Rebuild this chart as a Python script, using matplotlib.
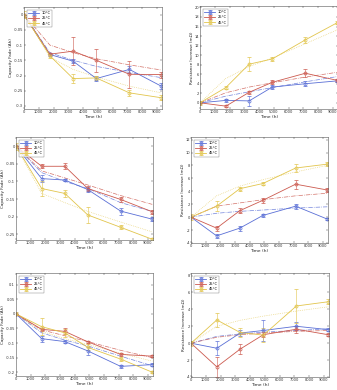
import numpy as np
import matplotlib
matplotlib.use("Agg")
import matplotlib.pyplot as plt
from matplotlib.ticker import FuncFormatter, MultipleLocator

plt.rcParams['font.family'] = ['DejaVu Sans']
plt.rcParams['axes.unicode_minus'] = False

# data
time_h = [0, 1750, 3330, 4900, 7140, 9300]
labels = ["10°C", "25°C", "45°C"]

# panel 1 - capacity fade
p1_blue = [0, -0.131, -0.153, -0.210, -0.180, -0.235]
p1_red = [0, -0.130, -0.120, -0.150, -0.196, -0.197]
p1_yellow = [0, -0.135, -0.210, -0.208, -0.257, -0.273]
p1_blue_err = [0, 0.004, 0.006, 0.008, 0.012, 0.010]
p1_red_err = [0, 0.004, 0.046, 0.038, 0.045, 0.010]
p1_yellow_err = [0.012, 0.006, 0.016, 0.006, 0.010, 0.008]
p1_blue_fit = [0, -0.125, -0.150, -0.170, -0.190, -0.207]
p1_red_fit = [0, -0.100, -0.125, -0.145, -0.165, -0.182]
p1_yellow_fit = [0, -0.140, -0.180, -0.205, -0.235, -0.257]

# panel 2 - resistance increase
p2_blue = [0, 0.5, 0.4, 3.3, 4.0, 4.6]
p2_red = [0, -0.7, 2.2, 4.3, 6.2, 4.7]
p2_yellow = [0, 3.2, 8.1, 9.2, 13.2, 16.8]
p2_blue_err = [0, 0.4, 1.0, 0.5, 0.5, 0.3]
p2_red_err = [0, 0.2, 0.3, 0.4, 0.8, 0.3]
p2_yellow_err = [0.4, 0.3, 1.5, 0.5, 0.6, 0.3]
p2_blue_fit = [0, 1.4, 2.3, 3.2, 4.4, 5.5]
p2_red_fit = [0, 2.1, 3.3, 4.2, 5.4, 6.4]
p2_yellow_fit = [0, 5.1, 7.6, 9.4, 12.4, 15.3]

# panel 3 - capacity fade
p3_blue = [0, -0.092, -0.096, -0.123, -0.184, -0.207]
p3_red = [0, -0.057, -0.057, -0.120, -0.151, -0.186]
p3_yellow = [0, -0.120, -0.134, -0.195, -0.230, -0.264]
p3_blue_err = [0, 0.010, 0.004, 0.008, 0.010, 0.006]
p3_red_err = [0, 0.006, 0.008, 0.006, 0.006, 0.006]
p3_yellow_err = [0.010, 0.020, 0.010, 0.022, 0.006, 0.004]
p3_blue_fit = [0, -0.075, -0.100, -0.120, -0.160, -0.185]
p3_red_fit = [0, -0.070, -0.090, -0.110, -0.140, -0.165]
p3_yellow_fit = [0, -0.134, -0.160, -0.185, -0.215, -0.243]

# panel 4 - resistance increase
p4_blue = [0, -2.9, -1.7, 0.26, 1.7, -0.3]
p4_red = [0, -1.7, 1.0, 2.6, 5.1, 4.2]
p4_yellow = [0, 1.7, 4.4, 5.2, 7.6, 8.2]
p4_blue_err = [0, 0.3, 0.4, 0.3, 0.4, 0.2]
p4_red_err = [0, 0.4, 0.4, 0.4, 0.7, 0.3]
p4_yellow_err = [0.5, 0.8, 0.3, 0.2, 0.6, 0.3]
p4_blue_fit = [0, 0.6, 0.9, 1.1, 1.4, 1.6]
p4_red_fit = [0, 1.7, 2.2, 2.7, 3.3, 3.7]
p4_yellow_fit = [0, 3.3, 4.8, 5.8, 7.0, 8.0]

# panel 5 - capacity fade
p5_blue = [0, -0.085, -0.095, -0.127, -0.180, -0.174]
p5_red = [0, -0.053, -0.060, -0.096, -0.139, -0.145]
p5_yellow = [0, -0.044, -0.065, -0.115, -0.155, -0.200]
p5_blue_err = [0, 0.010, 0.006, 0.015, 0.006, 0.006]
p5_red_err = [0, 0.006, 0.010, 0.004, 0.004, 0.004]
p5_yellow_err = [0.005, 0.030, 0.013, 0.010, 0.006, 0.004]
p5_blue_fit = [0, -0.065, -0.090, -0.110, -0.145, -0.178]
p5_red_fit = [0, -0.055, -0.075, -0.095, -0.125, -0.150]
p5_yellow_fit = [0, -0.060, -0.085, -0.105, -0.135, -0.162]

# panel 6 - resistance increase
p6_blue = [0, -0.6, 1.2, 1.5, 2.0, 1.6]
p6_red = [0, -2.8, -0.7, 1.0, 1.65, 1.0]
p6_yellow = [0, 2.75, 1.26, 0.95, 4.4, 4.9]
p6_blue_err = [0, 0.8, 0.3, 1.3, 0.5, 0.2]
p6_red_err = [0, 1.2, 0.6, 0.3, 0.4, 0.2]
p6_yellow_err = [0.3, 0.8, 0.5, 0.8, 2.0, 0.3]
p6_blue_fit = [0, 0.8, 1.1, 1.3, 1.5, 1.7]
p6_red_fit = [0, 0.7, 1.0, 1.2, 1.4, 1.5]
p6_yellow_fit = [0, 2.0, 2.7, 3.2, 3.8, 4.3]

colors = ['#5a6fd6', '#cc5a4f', '#e2c54c']
fit_styles = ['-.', '-.', ':']

cap_label = "Capacity Fade (Ah)"
res_label = "Resistance Increase (m\u03a9)"

panels = [
    # (position in px: left, top, right, bottom), series, errors, fits, ylim, ystep, ylabel
    ((24, 7, 162, 109), [p1_blue, p1_red, p1_yellow], [p1_blue_err, p1_red_err, p1_yellow_err],
     [p1_blue_fit, p1_red_fit, p1_yellow_fit], (-0.31, 0.025), 0.05, cap_label),
    ((200, 6, 338, 109), [p2_blue, p2_red, p2_yellow], [p2_blue_err, p2_red_err, p2_yellow_err],
     [p2_blue_fit, p2_red_fit, p2_yellow_fit], (-1.3, 20.3), 2, res_label),
    ((16, 137, 153, 240), [p3_blue, p3_red, p3_yellow], [p3_blue_err, p3_red_err, p3_yellow_err],
     [p3_blue_fit, p3_red_fit, p3_yellow_fit], (-0.266, 0.026), 0.05, cap_label),
    ((191, 137, 328, 243), [p4_blue, p4_red, p4_yellow], [p4_blue_err, p4_red_err, p4_yellow_err],
     [p4_blue_fit, p4_red_fit, p4_yellow_fit], (-4, 12.4), 2, res_label),
    ((16, 273, 153, 376), [p5_blue, p5_red, p5_yellow], [p5_blue_err, p5_red_err, p5_yellow_err],
     [p5_blue_fit, p5_red_fit, p5_yellow_fit], (-0.213, 0.14), 0.05, cap_label),
    ((191, 273, 329, 377), [p6_blue, p6_red, p6_yellow], [p6_blue_err, p6_red_err, p6_yellow_err],
     [p6_blue_fit, p6_red_fit, p6_yellow_fit], (-4, 8.3), 2, res_label),
]

W, H = 337, 390
fig = plt.figure(figsize=(W / 100, H / 100), dpi=100)
fig.patch.set_facecolor('white')

fmt = FuncFormatter(lambda v, p: '%g' % round(v, 6))

for (l, t, r, b), series, errs, fits, ylim, ystep, ylabel in panels:
    ax = fig.add_axes([l / W, 1 - b / H, (r - l) / W, (b - t) / H])
    for i in range(3):
        ax.errorbar(time_h, series[i], yerr=errs[i], color=colors[i], lw=0.6,
                    marker='o', ms=2.2, mfc='none', mew=0.5, elinewidth=0.4,
                    capsize=1.2, capthick=0.4, label=labels[i])
        ax.plot(time_h, fits[i], color=colors[i], lw=0.5, ls=fit_styles[i], alpha=0.85)
    ax.set_xlim(0, 9350)
    ax.set_ylim(*ylim)
    ax.xaxis.set_major_locator(MultipleLocator(1000))
    ax.yaxis.set_major_locator(MultipleLocator(ystep))
    ax.yaxis.set_major_formatter(fmt)
    ax.tick_params(direction='in', length=1.2, width=0.3, labelsize=2.6, pad=0.8,
                   top=True, right=True, colors='#333333')
    for s in ax.spines.values():
        s.set_linewidth(0.4)
        s.set_color('#555555')
    ax.set_xlabel("Time (h)", fontsize=3.2, labelpad=0.8, color='#222222')
    ax.set_ylabel(ylabel, fontsize=3.0, labelpad=0.5, color='#222222')
    leg = ax.legend(loc='upper left', fontsize=2.6, frameon=True, fancybox=False,
                    handlelength=3.0, borderpad=0.4, labelspacing=0.3,
                    handletextpad=0.6, borderaxespad=0.8)
    leg.get_frame().set_linewidth(0.3)
    leg.get_frame().set_edgecolor('#555555')

fig.savefig("out.png", dpi=100, facecolor='white')
